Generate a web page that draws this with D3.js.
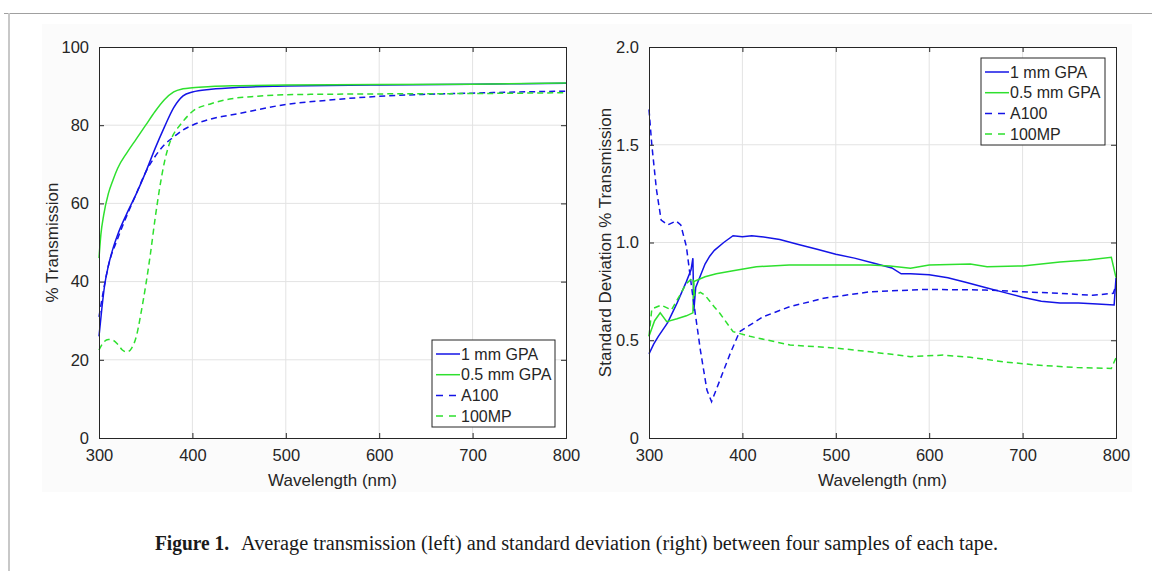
<!DOCTYPE html>
<html>
<head>
<meta charset="utf-8">
<script src="https://cdn.jsdelivr.net/npm/d3@7"></script>
<style>
	body { margin: 0; background: #fff; }
	svg text { font-family: "Liberation Sans", Arial, sans-serif; fill: #262626; }
	.caption text { font-family: "Liberation Serif", "Times New Roman", serif; fill: #1a1a1a; }
</style>
</head>
<body>
<svg id="fig" width="1152" height="571"></svg>
<script>
// series names for the legend
var seriesNames = ['1 mm GPA', '0.5 mm GPA', 'A100', '100MP'];

// left panel: average transmission, [wavelength nm, %]
var trans1mmGPA = [[300,26],[303,33],[306,39],[310,44],[315,48.5],[320,52],[330,57.5],[340,62.5],[350,68],[360,74],[370,79.5],[380,84.5],[390,87.5],[400,88.5],[420,89.2],[450,89.7],[500,90],[600,90.3],[700,90.5],[800,90.7]];
var trans05mmGPA = [[300,46],[302,52],[305,57],[310,62.5],[315,66],[320,69],[330,73],[340,76.5],[350,80],[360,83.5],[370,86.5],[380,88.5],[390,89.3],[400,89.6],[420,89.9],[450,90.1],[500,90.3],[600,90.4],[700,90.5],[800,90.8]];
var transA100 = [[300,31],[305,38],[310,44],[320,51],[330,57],[340,62.5],[350,68],[360,72],[370,75],[380,77],[390,78.8],[400,80],[420,81.6],[450,83],[500,85.3],[550,86.5],[600,87.4],[650,87.9],[700,88.2],[750,88.5],[800,88.7]];
var trans100MP = [[300,22.5],[305,24.5],[310,25.2],[315,25],[320,24],[325,22.5],[330,22],[335,23],[340,26],[345,32],[350,39],[355,47],[360,56],[365,64],[370,70.5],[375,75],[380,77.8],[385,79.5],[390,81],[400,83.5],[420,85.5],[440,86.7],[470,87.4],[500,87.8],[600,88],[700,88.1],[800,88.3]];

// right panel: standard deviation of % transmission
var sd1mmGPA = [[300,0.43],[305,0.48],[310,0.52],[320,0.59],[330,0.69],[340,0.8],[345,0.86],[347,0.92],[348,0.65],[350,0.77],[355,0.83],[360,0.89],[365,0.93],[370,0.96],[380,1.0],[390,1.035],[400,1.03],[410,1.035],[420,1.03],[440,1.015],[460,0.99],[480,0.965],[500,0.94],[520,0.92],[540,0.895],[560,0.87],[570,0.84],[580,0.84],[600,0.835],[620,0.82],[640,0.795],[660,0.77],[680,0.745],[700,0.72],[720,0.7],[740,0.69],[760,0.69],[780,0.685],[798,0.68],[800,0.82]];
var sd05mmGPA = [[300,0.52],[306,0.6],[312,0.64],[319,0.595],[330,0.61],[340,0.625],[347,0.64],[348,0.8],[360,0.825],[372,0.84],[390,0.855],[415,0.876],[450,0.885],[500,0.885],[537,0.885],[558,0.88],[580,0.868],[600,0.885],[644,0.89],[662,0.876],[700,0.88],[740,0.9],[770,0.91],[795,0.924],[800,0.82]];
var sdA100 = [[300,1.68],[303,1.5],[308,1.27],[313,1.115],[320,1.09],[329,1.11],[334,1.09],[340,0.98],[346,0.757],[355,0.45],[362,0.245],[367,0.186],[376,0.297],[387,0.433],[397,0.544],[422,0.62],[451,0.672],[487,0.715],[537,0.748],[597,0.76],[660,0.757],[700,0.748],[740,0.74],[775,0.73],[797,0.74],[800,0.78]];
var sd100MP = [[300,0.52],[303,0.66],[313,0.68],[324,0.655],[333,0.73],[340,0.79],[347,0.82],[349,0.73],[355,0.745],[360,0.73],[370,0.67],[376,0.637],[390,0.544],[408,0.52],[451,0.476],[500,0.46],[537,0.441],[580,0.416],[615,0.424],[644,0.413],[679,0.39],[715,0.373],[758,0.36],[795,0.356],[800,0.41]];

var xTicks = [300, 400, 500, 600, 700, 800];
var transTicks = [0, 20, 40, 60, 80, 100];
var sdTicks = [0, 0.5, 1.0, 1.5, 2.0];

var captionBold = 'Figure 1.';
var captionText = 'Average transmission (left) and standard deviation (right) between four samples of each tape.';

var blue = '#1414e6';
var green = '#2ee02e';
var styles = [
	{ color: blue, dash: null, legendDash: null },
	{ color: green, dash: null, legendDash: null },
	{ color: blue, dash: '6,4', legendDash: '7,6' },
	{ color: green, dash: '6,4', legendDash: '7,6' }
];

var svg = d3.select('#fig');

// page frame and faint figure background
svg.append('rect').attr('x', 42).attr('y', 24).attr('width', 1090).attr('height', 468).attr('fill', '#fbfbfb');
svg.append('line').attr('x1', 4).attr('y1', 13.5).attr('x2', 1152).attr('y2', 13.5).attr('stroke', '#a0a0a0').attr('stroke-width', 1);
svg.append('line').attr('x1', 9).attr('y1', 13).attr('x2', 9).attr('y2', 571).attr('stroke', '#c8c8c8').attr('stroke-width', 2);

function drawPanel(opts)
{
	var g = svg.append('g');
	var x = d3.scaleLinear().domain([300, 800]).range([opts.left, opts.right]);
	var y = d3.scaleLinear().domain(opts.yDomain).range([opts.bottom, opts.top]);

	g.append('rect')
		.attr('x', opts.left).attr('y', opts.top)
		.attr('width', opts.right - opts.left).attr('height', opts.bottom - opts.top)
		.attr('fill', '#fff');

	// grid
	g.append('g').selectAll('line').data(xTicks.slice(1, -1)).join('line')
		.attr('x1', function (d) { return x(d); }).attr('x2', function (d) { return x(d); })
		.attr('y1', opts.top).attr('y2', opts.bottom)
		.attr('stroke', '#e3e3e3').attr('stroke-width', 1);
	g.append('g').selectAll('line').data(opts.yTicks.slice(1, -1)).join('line')
		.attr('y1', function (d) { return y(d); }).attr('y2', function (d) { return y(d); })
		.attr('x1', opts.left).attr('x2', opts.right)
		.attr('stroke', '#e3e3e3').attr('stroke-width', 1);

	// series
	var line = d3.line()
		.x(function (d) { return x(d[0]); })
		.y(function (d) { return y(d[1]); })
		.curve(opts.curve);
	opts.series.forEach(function (s, i)
	{
		g.append('path')
			.datum(s)
			.attr('d', line)
			.attr('fill', 'none')
			.attr('stroke', styles[i].color)
			.attr('stroke-width', 1.5)
			.attr('stroke-dasharray', styles[i].dash);
	});

	// box axes, ticks inward on all sides
	var tickSize = 5;
	var axB = g.append('g').attr('transform', 'translate(0,' + opts.bottom + ')')
		.call(d3.axisBottom(x).tickValues(xTicks).tickSize(-tickSize).tickPadding(11));
	var axT = g.append('g').attr('transform', 'translate(0,' + opts.top + ')')
		.call(d3.axisTop(x).tickValues(xTicks).tickSize(-tickSize).tickFormat(''));
	var axL = g.append('g').attr('transform', 'translate(' + opts.left + ',0)')
		.call(d3.axisLeft(y).tickValues(opts.yTicks).tickSize(-tickSize).tickPadding(10).tickFormat(opts.yFormat));
	var axR = g.append('g').attr('transform', 'translate(' + opts.right + ',0)')
		.call(d3.axisRight(y).tickValues(opts.yTicks).tickSize(-tickSize).tickFormat(''));
	[axB, axT, axL, axR].forEach(function (a)
	{
		a.select('.domain').attr('stroke', '#262626').attr('stroke-width', 1);
		a.selectAll('.tick line').attr('stroke', '#262626');
		a.selectAll('text').attr('font-size', 16.5).attr('font-family', null).attr('fill', '#262626');
	});

	// axis labels
	g.append('text')
		.attr('x', (opts.left + opts.right) / 2).attr('y', 486)
		.attr('text-anchor', 'middle').attr('font-size', 17)
		.text('Wavelength (nm)');
	g.append('text')
		.attr('transform', 'translate(' + opts.yLabelX + ',' + ((opts.top + opts.bottom) / 2) + ') rotate(-90)')
		.attr('text-anchor', 'middle').attr('font-size', 17)
		.text(opts.yLabel);

	// legend
	var lg = g.append('g').attr('transform', 'translate(' + opts.legend[0] + ',' + opts.legend[1] + ')');
	lg.append('rect')
		.attr('width', opts.legend[2]).attr('height', 87)
		.attr('fill', '#fff').attr('stroke', '#262626').attr('stroke-width', 1);
	seriesNames.forEach(function (name, i)
	{
		var ly = 14 + i * 20.7;
		var x2 = styles[i].legendDash ? 24 : 28;
		lg.append('line')
			.attr('x1', 4).attr('x2', x2).attr('y1', ly).attr('y2', ly)
			.attr('stroke', styles[i].color).attr('stroke-width', 1.5)
			.attr('stroke-dasharray', styles[i].legendDash);
		lg.append('text')
			.attr('x', 29).attr('y', ly).attr('dy', '0.36em')
			.attr('font-size', 16)
			.text(name);
	});
}

drawPanel({
	left: 99, right: 566, top: 47, bottom: 438,
	yDomain: [0, 100], yTicks: transTicks, yFormat: d3.format('d'),
	yLabel: '% Transmission', yLabelX: 58,
	series: [trans1mmGPA, trans05mmGPA, transA100, trans100MP],
	curve: d3.curveMonotoneX,
	legend: [432, 340, 123]
});

drawPanel({
	left: 649, right: 1116, top: 47, bottom: 438,
	yDomain: [0, 2], yTicks: sdTicks,
	yFormat: function (d) { return d === 0 ? '0' : d3.format('.1f')(d); },
	yLabel: 'Standard Deviation % Transmission', yLabelX: 611,
	series: [sd1mmGPA, sd05mmGPA, sdA100, sd100MP],
	curve: d3.curveLinear,
	legend: [981, 58, 124]
});

// caption
var cap = svg.append('g').attr('class', 'caption');
cap.append('text').attr('x', 155).attr('y', 550).attr('font-size', 20)
	.attr('font-weight', 'bold').attr('textLength', 74).attr('lengthAdjust', 'spacingAndGlyphs')
	.text(captionBold);
cap.append('text').attr('x', 241).attr('y', 550).attr('font-size', 20)
	.attr('textLength', 757).attr('lengthAdjust', 'spacingAndGlyphs')
	.text(captionText);
</script>
</body>
</html>
